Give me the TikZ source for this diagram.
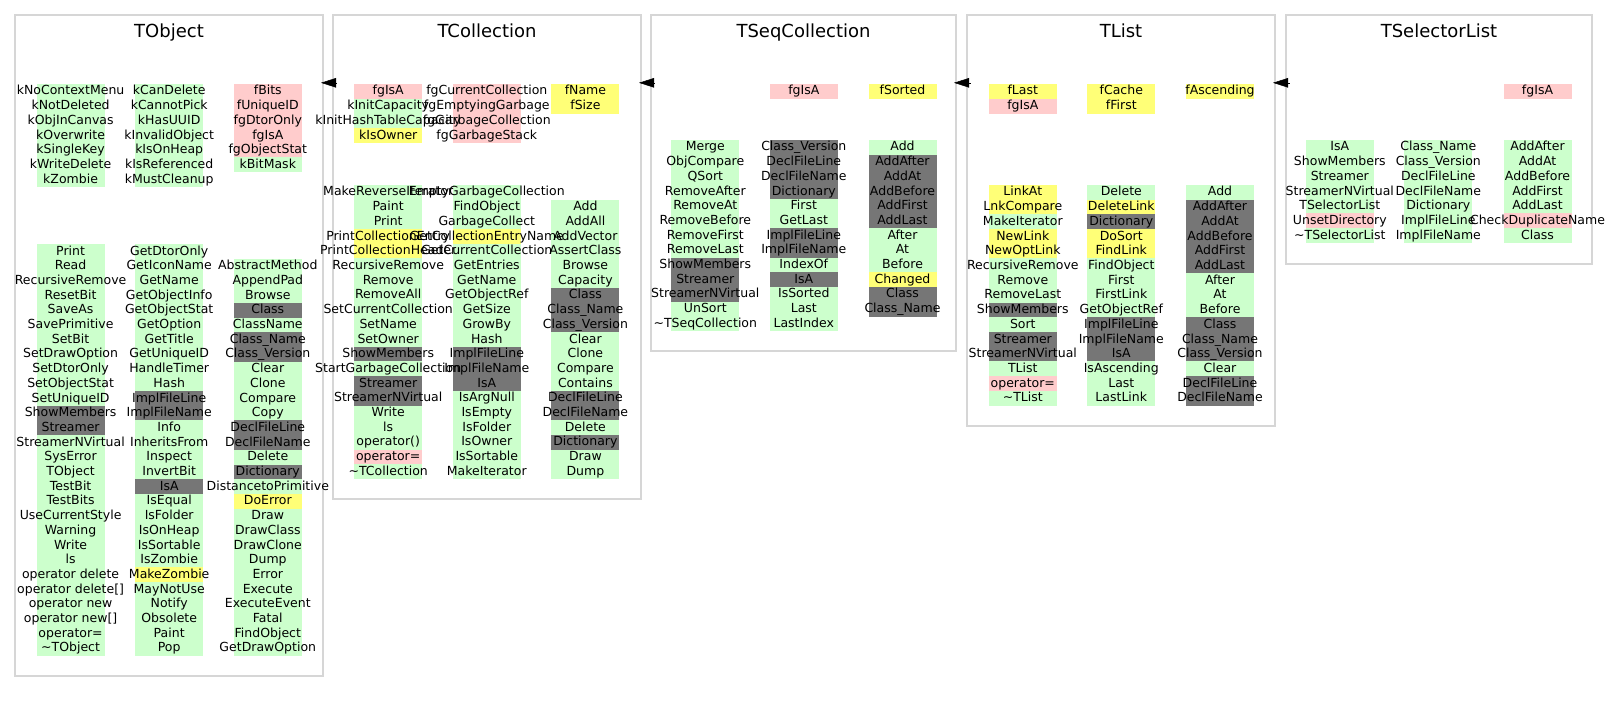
\documentclass[tikz,border=0pt]{standalone}
\usepackage{fontspec}
\setmainfont{DejaVu Sans}
\usetikzlibrary{arrows.meta}
\definecolor{cgreen}{RGB}{204,255,204}
\definecolor{cpink}{RGB}{255,204,204}
\definecolor{cyellow}{RGB}{255,255,119}
\definecolor{cgray}{RGB}{118,118,118}
\definecolor{cborder}{RGB}{214,214,214}
\tikzset{
  cg/.style={fill=cgreen}, cp/.style={fill=cpink}, cy/.style={fill=cyellow}, ck/.style={fill=cgray},
  entry/.style={anchor=base, inner sep=0pt, font=\fontsize{12.5}{15}\selectfont},
  ttl/.style={anchor=base, inner sep=0pt, font=\fontsize{18}{21}\selectfont},
  panel/.style={draw=cborder, line width=1.5pt, anchor=north west, inner sep=0pt, outer sep=0pt},
  inh/.style={-{Triangle[length=15pt,width=9.5pt]}, line width=0.5pt, black}
}
\newcommand\mfill[4]{%
  \foreach \tx/\cc [count=\i from 0] in {#4} {
    \fill[\cc] (#2-34, #3+\i*14.7) rectangle (#2+34, #3+\i*14.7+14.9);
  }%
}
\newcommand\mtext[4]{%
  \foreach \tx/\cc [count=\i from 0] in {#4} {
    \node[entry, name=#1-\i] at (#2, #3+\i*14.7+11) {\tx};
  }%
}
\newcommand\allcols[1]{%
% ---------- TObject
#1{oa}{70.6}{84}{kNoContextMenu/cg, kNotDeleted/cg, kObjInCanvas/cg, kOverwrite/cg, kSingleKey/cg, kWriteDelete/cg, kZombie/cg}
#1{ob}{169.2}{84}{kCanDelete/cg, kCannotPick/cg, kHasUUID/cg, kInvalidObject/cg, kIsOnHeap/cg, kIsReferenced/cg, kMustCleanup/cg}
#1{oc}{267.8}{84}{fBits/cp, fUniqueID/cp, fgDtorOnly/cp, fgIsA/cp, fgObjectStat/cp, kBitMask/cg}
#1{od}{70.6}{244}{Print/cg, Read/cg, RecursiveRemove/cg, ResetBit/cg, SaveAs/cg, SavePrimitive/cg, SetBit/cg, SetDrawOption/cg, SetDtorOnly/cg, SetObjectStat/cg, SetUniqueID/cg, ShowMembers/ck, Streamer/ck, StreamerNVirtual/cg, SysError/cg, TObject/cg, TestBit/cg, TestBits/cg, UseCurrentStyle/cg, Warning/cg, Write/cg, ls/cg, operator delete/cg, operator delete[]/cg, operator new/cg, operator new[]/cg, operator=/cg, \textasciitilde TObject/cg}
#1{oe}{169.2}{244}{GetDtorOnly/cg, GetIconName/cg, GetName/cg, GetObjectInfo/cg, GetObjectStat/cg, GetOption/cg, GetTitle/cg, GetUniqueID/cg, HandleTimer/cg, Hash/cg, ImplFileLine/ck, ImplFileName/ck, Info/cg, InheritsFrom/cg, Inspect/cg, InvertBit/cg, IsA/ck, IsEqual/cg, IsFolder/cg, IsOnHeap/cg, IsSortable/cg, IsZombie/cg, MakeZombie/cy, MayNotUse/cg, Notify/cg, Obsolete/cg, Paint/cg, Pop/cg}
#1{of}{267.8}{258.7}{AbstractMethod/cg, AppendPad/cg, Browse/cg, Class/ck, ClassName/cg, Class\_Name/ck, Class\_Version/ck, Clear/cg, Clone/cg, Compare/cg, Copy/cg, DeclFileLine/ck, DeclFileName/ck, Delete/cg, Dictionary/ck, DistancetoPrimitive/cg, DoError/cy, Draw/cg, DrawClass/cg, DrawClone/cg, Dump/cg, Error/cg, Execute/cg, ExecuteEvent/cg, Fatal/cg, FindObject/cg, GetDrawOption/cg}
% ---------- TCollection
#1{ca}{388.2}{84}{fgIsA/cp, kInitCapacity/cg, kInitHashTableCapacity/cg, kIsOwner/cy}
#1{cb}{486.8}{84}{fgCurrentCollection/cp, fgEmptyingGarbage/cp, fgGarbageCollection/cp, fgGarbageStack/cp}
#1{cc}{585.4}{84}{fName/cy, fSize/cy}
#1{cd}{388.2}{185}{MakeReverseIterator/cg, Paint/cg, Print/cg, PrintCollectionEntry/cy, PrintCollectionHeader/cy, RecursiveRemove/cg, Remove/cg, RemoveAll/cg, SetCurrentCollection/cg, SetName/cg, SetOwner/cg, ShowMembers/ck, StartGarbageCollection/cg, Streamer/ck, StreamerNVirtual/ck, Write/cg, ls/cg, operator()/cg, operator=/cp, \textasciitilde TCollection/cg}
#1{ce}{486.8}{185}{EmptyGarbageCollection/cg, FindObject/cg, GarbageCollect/cg, GetCollectionEntryName/cy, GetCurrentCollection/cg, GetEntries/cg, GetName/cg, GetObjectRef/cg, GetSize/cg, GrowBy/cg, Hash/cg, ImplFileLine/ck, ImplFileName/ck, IsA/ck, IsArgNull/cg, IsEmpty/cg, IsFolder/cg, IsOwner/cg, IsSortable/cg, MakeIterator/cg}
#1{cf}{585.4}{199.7}{Add/cg, AddAll/cg, AddVector/cg, AssertClass/cg, Browse/cg, Capacity/cg, Class/ck, Class\_Name/ck, Class\_Version/ck, Clear/cg, Clone/cg, Compare/cg, Contains/cg, DeclFileLine/ck, DeclFileName/ck, Delete/cg, Dictionary/ck, Draw/cg, Dump/cg}
% ---------- TSeqCollection
#1{sb}{803.8}{84}{fgIsA/cp}
#1{sc}{902.5}{84}{fSorted/cy}
#1{sd}{705.3}{140}{Merge/cg, ObjCompare/cg, QSort/cg, RemoveAfter/cg, RemoveAt/cg, RemoveBefore/cg, RemoveFirst/cg, RemoveLast/cg, ShowMembers/ck, Streamer/ck, StreamerNVirtual/ck, UnSort/cg, \textasciitilde TSeqCollection/cg}
#1{se}{803.8}{140}{Class\_Version/ck, DeclFileLine/ck, DeclFileName/ck, Dictionary/ck, First/cg, GetLast/cg, ImplFileLine/ck, ImplFileName/ck, IndexOf/cg, IsA/ck, IsSorted/cg, Last/cg, LastIndex/cg}
#1{sf}{902.5}{140}{Add/cg, AddAfter/ck, AddAt/ck, AddBefore/ck, AddFirst/ck, AddLast/ck, After/cg, At/cg, Before/cg, Changed/cy, Class/ck, Class\_Name/ck}
% ---------- TList
#1{la}{1022.8}{84}{fLast/cy, fgIsA/cp}
#1{lb}{1121.3}{84}{fCache/cy, fFirst/cy}
#1{lc}{1220}{84}{fAscending/cy}
#1{ld}{1022.8}{185}{LinkAt/cy, LnkCompare/cy, MakeIterator/cg, NewLink/cy, NewOptLink/cy, RecursiveRemove/cg, Remove/cg, RemoveLast/cg, ShowMembers/ck, Sort/cg, Streamer/ck, StreamerNVirtual/ck, TList/cg, operator=/cp, \textasciitilde TList/cg}
#1{le}{1121.3}{185}{Delete/cg, DeleteLink/cy, Dictionary/ck, DoSort/cy, FindLink/cy, FindObject/cg, First/cg, FirstLink/cg, GetObjectRef/cg, ImplFileLine/ck, ImplFileName/ck, IsA/ck, IsAscending/cg, Last/cg, LastLink/cg}
#1{lf}{1220}{185}{Add/cg, AddAfter/ck, AddAt/ck, AddBefore/ck, AddFirst/ck, AddLast/ck, After/cg, At/cg, Before/cg, Class/ck, Class\_Name/ck, Class\_Version/ck, Clear/cg, DeclFileLine/ck, DeclFileName/ck}
% ---------- TSelectorList
#1{xc}{1537.5}{84}{fgIsA/cp}
#1{xd}{1339.8}{140}{IsA/cg, ShowMembers/cg, Streamer/cg, StreamerNVirtual/cg, TSelectorList/cg, UnsetDirectory/cp, \textasciitilde TSelectorList/cg}
#1{xe}{1438.3}{140}{Class\_Name/cg, Class\_Version/cg, DeclFileLine/cg, DeclFileName/cg, Dictionary/cg, ImplFileLine/cg, ImplFileName/cg}
#1{xf}{1537.5}{140}{AddAfter/cg, AddAt/cg, AddBefore/cg, AddFirst/cg, AddLast/cg, CheckDuplicateName/cp, Class/cg}
}
\begin{document}
\begin{tikzpicture}[x=1pt, y=-1pt]
\useasboundingbox (0,0) rectangle (1608,703);
% panels
\node[panel, minimum width=308pt, minimum height=661pt] (tobj) at (15,15) {};
\node[panel, minimum width=308pt, minimum height=484pt] (tcoll) at (333,15) {};
\node[panel, minimum width=305pt, minimum height=336pt] (tseq) at (651,15) {};
\node[panel, minimum width=308pt, minimum height=411pt] (tlist) at (967,15) {};
\node[panel, minimum width=306pt, minimum height=249pt] (tsel) at (1286,15) {};
% titles
\node[ttl] (tobj-t) at (169,37.3) {TObject};
\node[ttl] (tcoll-t) at (487,37.3) {TCollection};
\node[ttl] (tseq-t) at (803.5,37.3) {TSeqCollection};
\node[ttl] (tlist-t) at (1121,37.3) {TList};
\node[ttl] (tsel-t) at (1439,37.3) {TSelectorList};
% inheritance arrows
\draw[inh] ([shift={(3.7,67.8)}]tcoll.north west) -- ([shift={(-2,67.8)}]tobj.north east);
\draw[inh] ([shift={(3.7,67.8)}]tseq.north west) -- ([shift={(-2,67.8)}]tcoll.north east);
\draw[inh] ([shift={(3.7,67.8)}]tlist.north west) -- ([shift={(-2,67.8)}]tseq.north east);
\draw[inh] ([shift={(3.7,67.8)}]tsel.north west) -- ([shift={(-2,67.8)}]tlist.north east);
% member columns: backgrounds first, then texts
\allcols\mfill
\allcols\mtext
\end{tikzpicture}
\end{document}
